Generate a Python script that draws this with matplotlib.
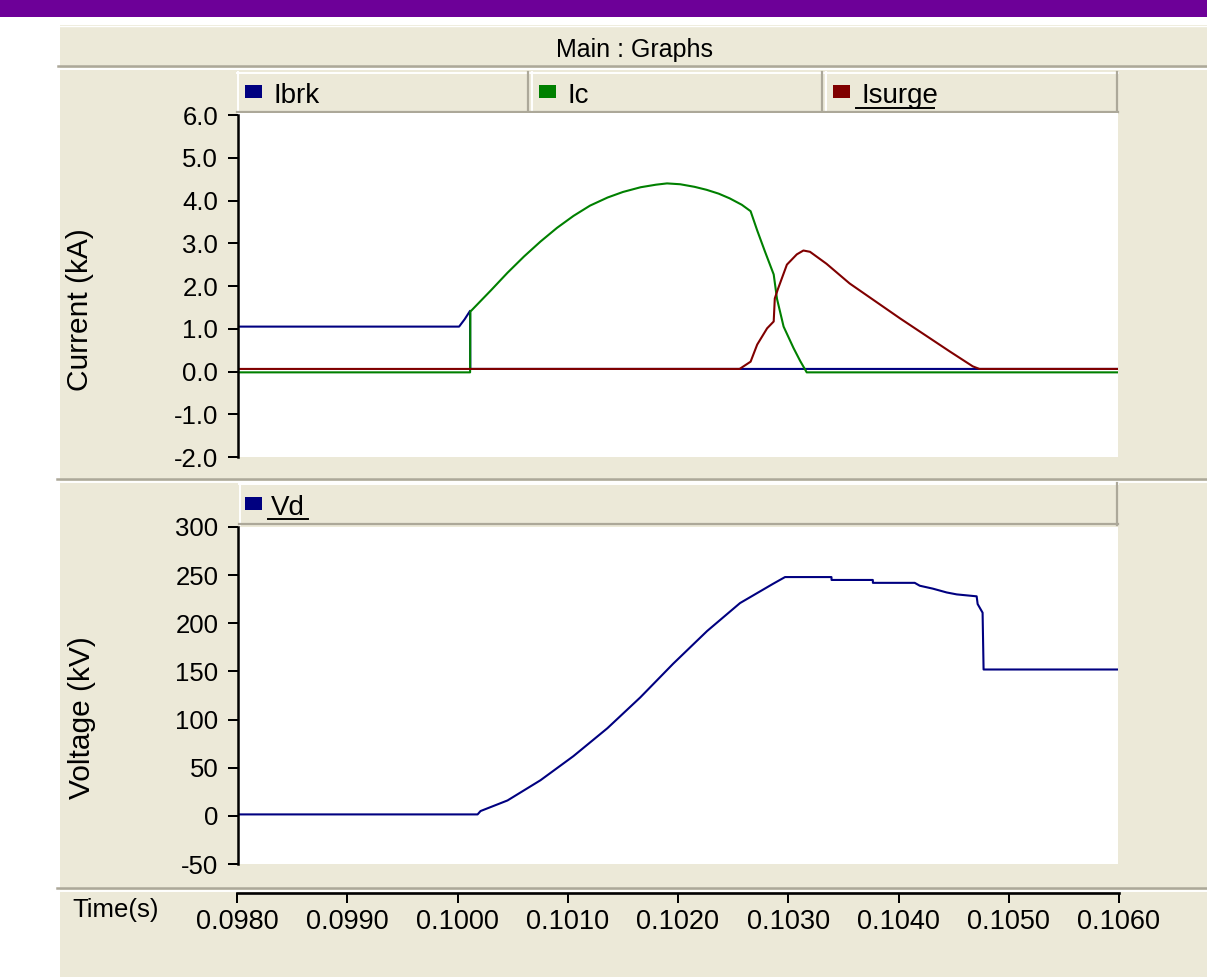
import matplotlib
matplotlib.use('Agg')
import matplotlib.pyplot as plt
from matplotlib.patches import Rectangle
from matplotlib.lines import Line2D

plt.rcParams['font.family'] = ['Liberation Sans', 'DejaVu Sans']

# ---------------- data ----------------
t_ibrk = [0.0980, 0.10001, 0.10006, 0.10011, 0.100112, 0.1060]
ibrk = [1.05, 1.05, 1.22, 1.42, 0.06, 0.06]

t_ic = [0.0980, 0.10011, 0.100112, 0.10030, 0.10045, 0.10060, 0.10075, 0.10090,
        0.10105, 0.10120, 0.10136, 0.10150, 0.10166, 0.10180, 0.10190, 0.10202,
        0.10215, 0.10226, 0.10237, 0.10247, 0.10258, 0.10266, 0.10272, 0.10279,
        0.10287, 0.10290, 0.10296, 0.10305, 0.10311, 0.10317, 0.1060]
ic = [-0.02, -0.02, 1.40, 1.90, 2.31, 2.69, 3.04, 3.36,
      3.64, 3.88, 4.07, 4.20, 4.31, 4.37, 4.40, 4.38,
      4.32, 4.25, 4.16, 4.05, 3.90, 3.75, 3.30, 2.81,
      2.27, 1.70, 1.05, 0.55, 0.25, -0.02, -0.02]

t_isurge = [0.0980, 0.10256, 0.10266, 0.10272, 0.10281, 0.10287, 0.10288, 0.10291,
            0.10299, 0.10308, 0.10314, 0.10320, 0.10335, 0.10356, 0.10402, 0.10447,
            0.10468, 0.10474, 0.1060]
isurge = [0.06, 0.06, 0.23, 0.63, 1.01, 1.17, 1.71, 1.94,
          2.50, 2.74, 2.83, 2.80, 2.52, 2.06, 1.24, 0.47,
          0.12, 0.06, 0.06]

t_vd = [0.0980, 0.100178, 0.100205, 0.10045, 0.10075, 0.101049, 0.101358, 0.101657,
        0.101956, 0.102265, 0.102564, 0.102864, 0.102973, 0.103395, 0.103396, 0.103771,
        0.103772, 0.104152, 0.104198, 0.104316, 0.104443, 0.104534, 0.104715, 0.104724,
        0.104769, 0.104778, 0.1060]
vd = [1.5, 1.5, 5, 16, 37, 62, 91, 123,
      158, 192, 221, 241, 248, 248, 245, 245,
      242, 242, 239, 236, 232, 230, 228, 220,
      211, 152, 152]

time_ticks = [0.0980, 0.0990, 0.1000, 0.1010, 0.1020, 0.1030, 0.1040, 0.1050, 0.1060]
current_ticks = [-2.0, -1.0, 0.0, 1.0, 2.0, 3.0, 4.0, 5.0, 6.0]
voltage_ticks = [-50, 0, 50, 100, 150, 200, 250, 300]
top_legend = ['Ibrk', 'Ic', 'Isurge']
bottom_legend = ['Vd']

# ---------------- styling ----------------
W, H = 1207, 977
BEIGE = '#ECE9D8'
GREY = '#ACA899'
PURPLE = '#6D0098'
C_BLUE = '#000080'
C_GREEN = '#008000'
C_RED = '#800000'
LW = 1.5

fig = plt.figure(figsize=(W / 100, H / 100), dpi=100)
fig.patch.set_facecolor('white')


def box(x0, y0, x1, y1):
    return [x0 / W, 1 - y1 / H, (x1 - x0) / W, (y1 - y0) / H]


def rect(x0, y0, x1, y1, color, z=-10):
    fig.add_artist(Rectangle((x0 / W, 1 - y1 / H), (x1 - x0) / W, (y1 - y0) / H,
                             transform=fig.transFigure, facecolor=color,
                             edgecolor='none', zorder=z))


def hline(y, x0, x1, color, lw, z=-8):
    fig.add_artist(Line2D([x0 / W, x1 / W], [1 - y / H, 1 - y / H],
                          transform=fig.transFigure, color=color, lw=lw, zorder=z))


def vline(x, y0, y1, color, lw, z=-8):
    fig.add_artist(Line2D([x / W, x / W], [1 - y0 / H, 1 - y1 / H],
                          transform=fig.transFigure, color=color, lw=lw, zorder=z))


def button(x0, y0, x1, y1):
    rect(x0, y0, x1, y1, BEIGE, z=-9)
    hline(y0 + 0.7, x0, x1, 'white', 1.4)
    vline(x0 + 0.7, y0, y1, 'white', 1.4)
    hline(y1 - 1.2, x0, x1, GREY, 1.6)
    vline(x1 - 1.2, y0, y1, GREY, 1.6)


# background
rect(0, 0, W, 17, PURPLE)
rect(60, 25, W, H, BEIGE)
hline(25.5, 60, W, 'white', 1.0)
hline(66, 58, W, GREY, 1.8)
hline(69, 58, W, 'white', 1.4)
hline(479, 57, W, GREY, 1.8)
hline(481.5, 57, W, 'white', 1.4)
hline(888, 57, W, GREY, 1.8)
hline(890.5, 57, W, 'white', 1.4)

fig.text(634 / W, 1 - 57 / H, 'Main : Graphs', ha='center', va='baseline',
         fontsize=18, color='black')

# legend buttons (top)
top_btn = [(237, 529), (531, 823), (825, 1118)]
top_colors = [C_BLUE, C_GREEN, C_RED]
for (bx0, bx1), name, col in zip(top_btn, top_legend, top_colors):
    button(bx0, 72, bx1, 113)
    rect(bx0 + 8, 85, bx0 + 25, 98, col, z=-7)
    fig.text((bx0 + 36) / W, 1 - 103 / H, name, ha='left', va='baseline',
             fontsize=20, color='black')
# underline for Isurge
hline(108, 856, 934, 'black', 1.4, z=-6)

# legend button (bottom)
button(239, 483, 1118, 525)
rect(245, 497, 262, 510, C_BLUE, z=-7)
fig.text(271 / W, 1 - 515 / H, bottom_legend[0], ha='left', va='baseline',
         fontsize=20, color='black')
hline(519, 268, 308, 'black', 1.4, z=-6)

# white strip above plot top
rect(238, 113, 1118, 116, 'white', z=-5)

# ---------------- current axes ----------------
ax1 = fig.add_axes(box(238, 115, 1118, 457))
ax1.set_facecolor('white')
for s in ['top', 'right', 'bottom']:
    ax1.spines[s].set_visible(False)
ax1.spines['left'].set_linewidth(1.8)
ax1.set_xlim(time_ticks[0], time_ticks[-1])
ax1.set_ylim(current_ticks[0], current_ticks[-1])
ax1.set_xticks([])
ax1.set_yticks(current_ticks)
ax1.set_yticklabels([f'{v:.1f}' for v in current_ticks])
ax1.tick_params(axis='y', length=7.2, width=1.44, pad=7, labelsize=18.5)
ax1.plot(t_ibrk, ibrk, color=C_BLUE, lw=LW)
ax1.plot(t_ic, ic, color=C_GREEN, lw=LW)
ax1.plot(t_isurge, isurge, color=C_RED, lw=LW)

fig.text(80 / W, 1 - 310 / H, 'Current (kA)', rotation=90, ha='center',
         va='center', fontsize=21.5)

# ---------------- voltage axes ----------------
ax2 = fig.add_axes(box(238, 527, 1118, 864))
ax2.set_facecolor('white')
for s in ['top', 'right', 'bottom']:
    ax2.spines[s].set_visible(False)
ax2.spines['left'].set_linewidth(1.8)
ax2.set_xlim(time_ticks[0], time_ticks[-1])
ax2.set_ylim(voltage_ticks[0], voltage_ticks[-1])
ax2.set_xticks([])
ax2.set_yticks(voltage_ticks)
ax2.set_yticklabels([str(v) for v in voltage_ticks])
ax2.tick_params(axis='y', length=7.2, width=1.44, pad=7, labelsize=18.5)
ax2.plot(t_vd, vd, color=C_BLUE, lw=LW)

fig.text(82 / W, 1 - 718 / H, 'Voltage (kV)', rotation=90, ha='center',
         va='center', fontsize=21.5)

# ---------------- time axis ----------------
ax3 = fig.add_axes(box(237, 892, 1119, 893))
ax3.set_facecolor('none')
for s in ['top', 'right', 'left']:
    ax3.spines[s].set_visible(False)
ax3.spines['bottom'].set_linewidth(1.9)
ax3.set_xlim(time_ticks[0], time_ticks[-1])
ax3.set_yticks([])
ax3.set_xticks(time_ticks)
ax3.set_xticklabels([f'{v:.4f}' for v in time_ticks])
ax3.tick_params(axis='x', length=7.2, width=1.44, pad=4, labelsize=19.5)

fig.text(72 / W, 1 - 910 / H, 'Time(s)', ha='left', va='center', fontsize=18.5)

fig.savefig('out.png', dpi=100, facecolor=fig.get_facecolor())
